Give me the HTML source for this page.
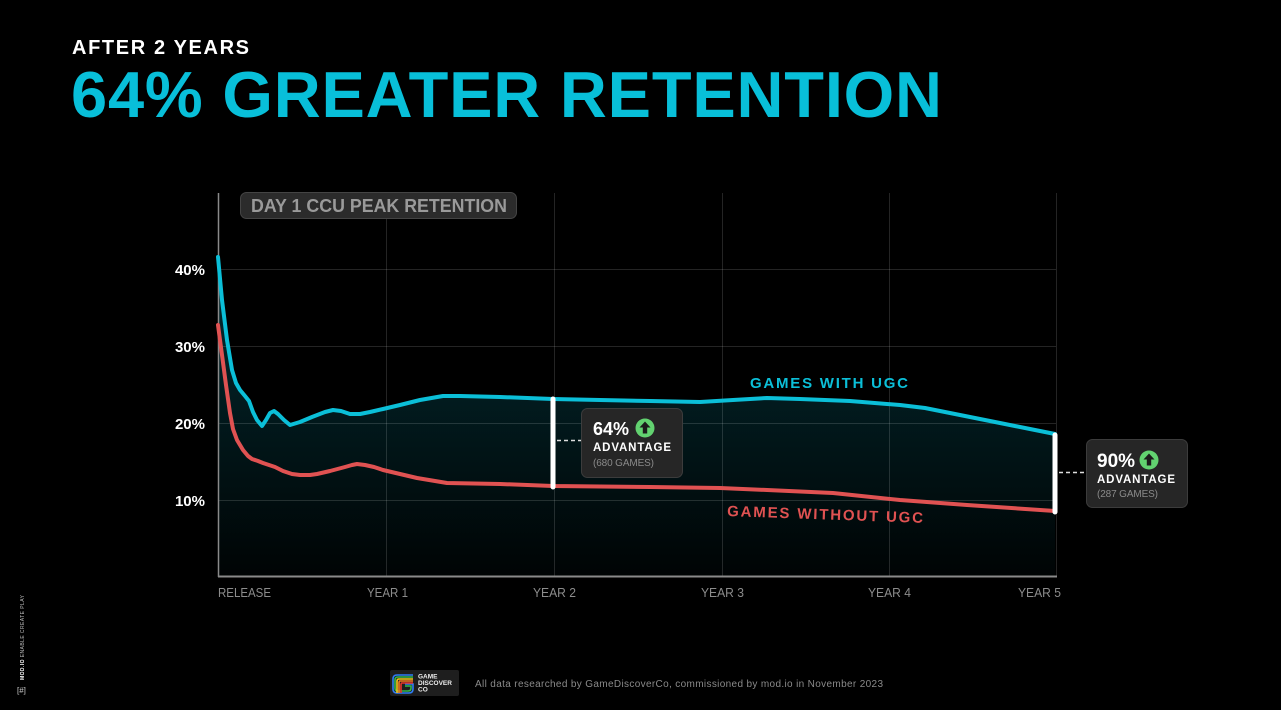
<!DOCTYPE html>
<html>
<head>
<meta charset="utf-8">
<style>
html,body{margin:0;padding:0;background:#000;}
body{width:1281px;height:710px;overflow:hidden;}
svg{display:block;font-family:"Liberation Sans",sans-serif;}
</style>
</head>
<body>
<svg width="1281" height="710" viewBox="0 0 1281 710" xmlns="http://www.w3.org/2000/svg">
<defs>
<linearGradient id="fillg" x1="0" y1="257" x2="0" y2="576" gradientUnits="userSpaceOnUse">
<stop offset="0" stop-color="#0bbfd8" stop-opacity="0.24"/>
<stop offset="0.45" stop-color="#0bbfd8" stop-opacity="0.14"/>
<stop offset="1" stop-color="#0bbfd8" stop-opacity="0.02"/>
</linearGradient>
</defs>
<rect x="0" y="0" width="1281" height="710" fill="#000"/>

<!-- Titles -->
<text x="72" y="54" font-size="20" font-weight="bold" fill="#ffffff" textLength="177" lengthAdjust="spacing">AFTER 2 YEARS</text>
<text x="71" y="117" font-size="65" font-weight="bold" fill="#08bfd9" textLength="871" lengthAdjust="spacing">64% GREATER RETENTION</text>

<!-- Fill area under blue curve -->
<path fill="url(#fillg)" d="M218,257 L222,300 L227,340 L232,370 L236,383 L240,390 L245,396 L249,401 L253,412 L257,420 L262,426 L266,420 L270,413 L274,411 L278,414 L284,420 L290,425 L300,422 L312,417 L325,412 L333,410 L341,411 L350,414 L360,414 L370,412 L383,409 L400,405 L420,400 L443,396 L460,396 L500,397 L553,399 L600,400 L650,401 L700,402 L733,400 L767,398 L800,399 L850,401 L900,405 L925,408 L950,413 L975,418 L1000,423 L1030,429 L1055,434 L1055,576 L218,576 Z"/>

<!-- Gridlines -->
<g stroke="#ffffff" stroke-opacity="0.14" stroke-width="1">
<line x1="218" y1="269.5" x2="1056" y2="269.5"/>
<line x1="218" y1="346.5" x2="1056" y2="346.5"/>
<line x1="218" y1="423.5" x2="1056" y2="423.5"/>
<line x1="218" y1="500.5" x2="1056" y2="500.5"/>
<line x1="386.5" y1="193" x2="386.5" y2="576"/>
<line x1="554.5" y1="193" x2="554.5" y2="576"/>
<line x1="722.5" y1="193" x2="722.5" y2="576"/>
<line x1="889.5" y1="193" x2="889.5" y2="576"/>
<line x1="1056.5" y1="193" x2="1056.5" y2="576"/>
</g>

<!-- Axes -->
<line x1="218.5" y1="193" x2="218.5" y2="577" stroke="#8a8a8a" stroke-width="1.5"/>
<line x1="218" y1="576.5" x2="1057" y2="576.5" stroke="#8a8a8a" stroke-width="2"/>

<!-- Day 1 label -->
<rect x="240.5" y="192.5" width="276" height="26" rx="6" fill="#2b2b2b" stroke="#444" stroke-width="1"/>
<text x="251" y="212" font-size="18" font-weight="bold" fill="#9a9a9a" textLength="256" lengthAdjust="spacingAndGlyphs">DAY 1 CCU PEAK RETENTION</text>

<!-- Y labels -->
<g font-size="15" font-weight="bold" fill="#ffffff" text-anchor="end">
<text x="205" y="275">40%</text>
<text x="205" y="352">30%</text>
<text x="205" y="429">20%</text>
<text x="205" y="506">10%</text>
</g>

<!-- X labels -->
<g font-size="13" fill="#8c8c8c">
<text x="218" y="597" textLength="53" lengthAdjust="spacingAndGlyphs">RELEASE</text>
<text x="367" y="597" textLength="41" lengthAdjust="spacingAndGlyphs">YEAR 1</text>
<text x="533" y="597" textLength="43" lengthAdjust="spacingAndGlyphs">YEAR 2</text>
<text x="701" y="597" textLength="43" lengthAdjust="spacingAndGlyphs">YEAR 3</text>
<text x="868" y="597" textLength="43" lengthAdjust="spacingAndGlyphs">YEAR 4</text>
<text x="1018" y="597" textLength="43" lengthAdjust="spacingAndGlyphs">YEAR 5</text>
</g>

<!-- Red curve -->
<polyline fill="none" stroke="#e05252" stroke-width="4" stroke-linejoin="round" stroke-linecap="round" points="218,325 222,355 226,385 230,413 233,429 237,440 243,450 248,456 252,459 258,461 263,463 269,465 275,467 283,471 292,474 300,475 310,475 317,474 330,471 345,467 352,465 357,464 365,465 374,467 383,470 400,474 417,478 447,483 500,484 553,486 650,487 720,488 767,490 833,493 900,500 967,505 1055,511"/>

<!-- Blue curve -->
<polyline fill="none" stroke="#0bbfd8" stroke-width="4" stroke-linejoin="round" stroke-linecap="round" points="218,257 222,300 227,340 232,370 236,383 240,390 245,396 249,401 253,412 257,420 262,426 266,420 270,413 274,411 278,414 284,420 290,425 300,422 312,417 325,412 333,410 341,411 350,414 360,414 370,412 383,409 400,405 420,400 443,396 460,396 500,397 553,399 600,400 650,401 700,402 733,400 767,398 800,399 850,401 900,405 925,408 950,413 975,418 1000,423 1030,429 1055,434"/>

<!-- Series labels -->
<text x="750" y="388" font-size="15" font-weight="bold" fill="#0bbfd8" textLength="158" lengthAdjust="spacing">GAMES WITH UGC</text>
<text x="727" y="516" font-size="15" font-weight="bold" fill="#e05252" textLength="196" lengthAdjust="spacing" transform="rotate(2 727 516)">GAMES WITHOUT UGC</text>

<!-- White bars -->
<line x1="553" y1="399" x2="553" y2="487" stroke="#ffffff" stroke-width="5" stroke-linecap="round"/>
<line x1="1055" y1="435" x2="1055" y2="512" stroke="#ffffff" stroke-width="5" stroke-linecap="round"/>

<!-- Dashed connectors -->
<line x1="557" y1="440.5" x2="581" y2="440.5" stroke="#dddddd" stroke-width="1.5" stroke-dasharray="4,3"/>
<line x1="1059" y1="472.5" x2="1086" y2="472.5" stroke="#dddddd" stroke-width="1.5" stroke-dasharray="4,3"/>

<!-- Callout 1 -->
<rect x="581.5" y="408.5" width="101" height="69" rx="6" fill="#262626" stroke="#3c3c3c" stroke-width="1"/>
<text x="593" y="435" font-size="18" font-weight="bold" fill="#ffffff">64%</text>
<circle cx="645" cy="428" r="9.5" fill="#62d270"/>
<path d="M645,421.5 L650.5,427.5 L647.2,427.5 L647.2,433.5 L642.8,433.5 L642.8,427.5 L639.5,427.5 Z" fill="#1c1c1c"/>
<text x="593" y="451" font-size="11.5" font-weight="bold" fill="#ffffff" textLength="78" lengthAdjust="spacing">ADVANTAGE</text>
<text x="593" y="466" font-size="10" fill="#8a8a8a" textLength="61" lengthAdjust="spacing">(680 GAMES)</text>

<!-- Callout 2 -->
<rect x="1086.5" y="439.5" width="101" height="68" rx="6" fill="#262626" stroke="#3c3c3c" stroke-width="1"/>
<text x="1097" y="467" font-size="19" font-weight="bold" fill="#ffffff">90%</text>
<circle cx="1149" cy="460" r="9.5" fill="#62d270"/>
<path d="M1149,453.5 L1154.5,459.5 L1151.2,459.5 L1151.2,465.5 L1146.8,465.5 L1146.8,459.5 L1143.5,459.5 Z" fill="#1c1c1c"/>
<text x="1097" y="483" font-size="11.5" font-weight="bold" fill="#ffffff" textLength="78" lengthAdjust="spacing">ADVANTAGE</text>
<text x="1097" y="497" font-size="10" fill="#8a8a8a" textLength="61" lengthAdjust="spacing">(287 GAMES)</text>

<!-- Footer logo -->
<rect x="390" y="670" width="69" height="26" rx="2" fill="#1e1e1e"/>
<g fill="none" stroke-width="1.6" stroke-linecap="butt">
<path d="M413,675 L397,675 Q393,675 393,679 L393,689 Q393,693 397,693 L409,693 Q413,693 413,689 L413,684 L405,684" stroke="#2f7df6"/>
<path d="M413,677 L398,677 Q395,677 395,680 L395,688 Q395,691 398,691 L408,691 Q411,691 411,688 L411,686 L405,686" stroke="#34b84a"/>
<path d="M413,679 L399,679 Q397,679 397,681 L397,693" stroke="#f5c516"/>
<path d="M413,681 L400,681 Q399,681 399,683 L399,693" stroke="#f47a20"/>
<path d="M413,683 L402,683 Q401,683 401,685 L401,693" stroke="#e8352c"/>
</g>
<g font-size="6.5" font-weight="bold" fill="#eeeeee">
<text x="418" y="678.5">GAME</text>
<text x="418" y="685">DISCOVER</text>
<text x="418" y="691.5">CO</text>
</g>
<text x="475" y="687" font-size="10" fill="#8a8a8a" textLength="408" lengthAdjust="spacing">All data researched by GameDiscoverCo, commissioned by mod.io in November 2023</text>

<!-- Side branding -->
<text x="0" y="0" font-size="5" fill="#bbbbbb" transform="translate(24,680) rotate(-90)" textLength="85" lengthAdjust="spacing"><tspan font-weight="bold" fill="#ffffff">MOD.IO</tspan> ENABLE CREATE PLAY</text>
<text x="17" y="693" font-size="8" fill="#cccccc">[#]</text>
</svg>
</body>
</html>
